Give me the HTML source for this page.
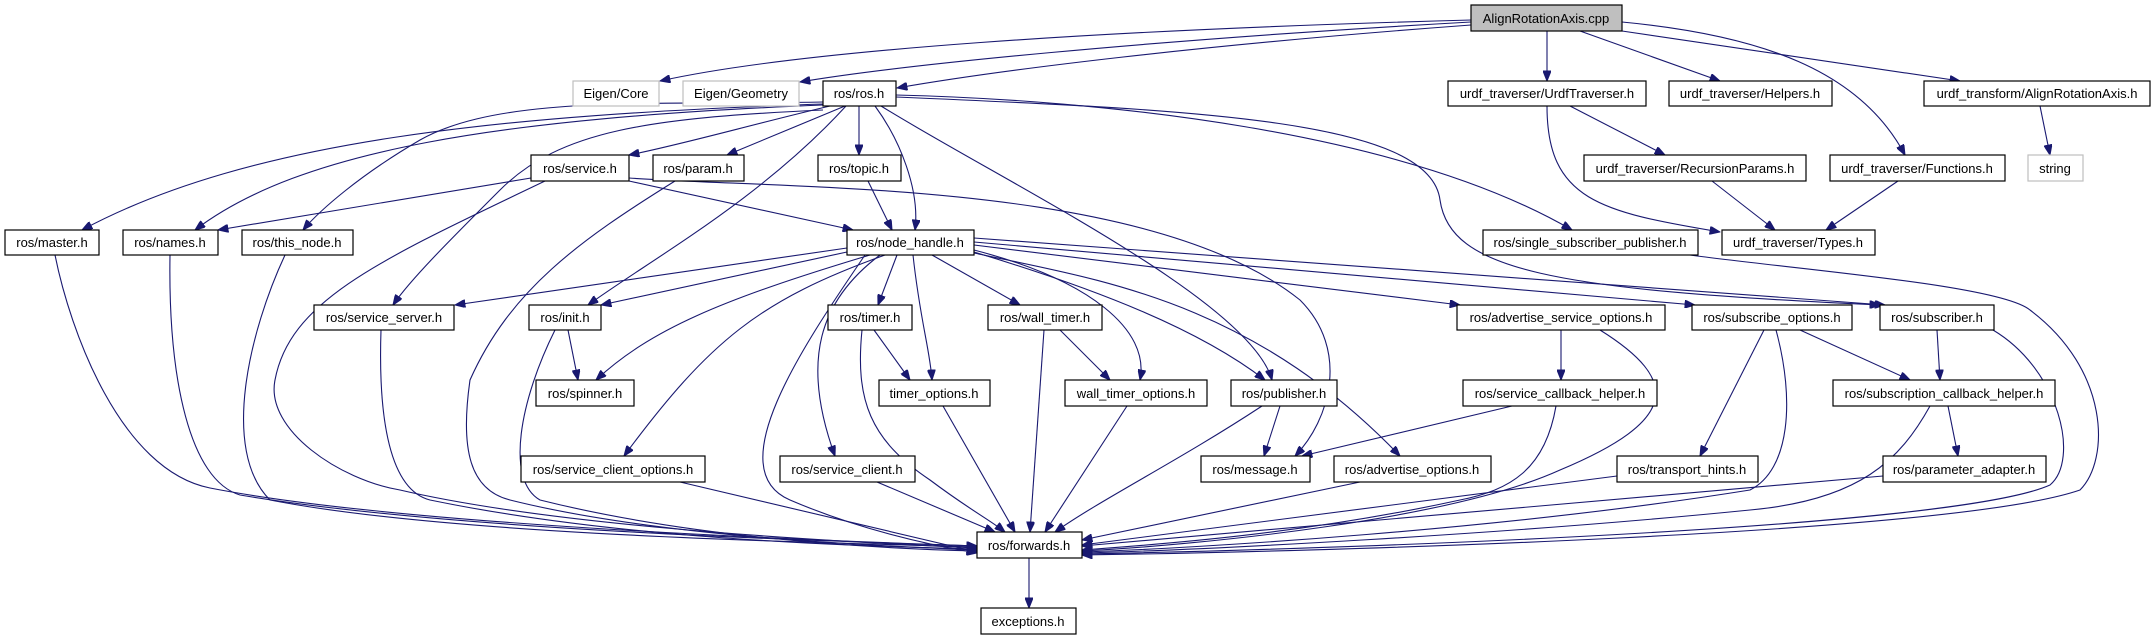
<!DOCTYPE html>
<html><head><meta charset="utf-8"><style>
html,body{margin:0;padding:0;background:#fff;}
svg{display:block}
text{font-family:"Liberation Sans",Arial,sans-serif;font-size:13px;fill:#000;}
.e{fill:none;stroke:#191970;stroke-width:1.1;marker-end:url(#a)}
.n{fill:#fff;stroke:#000;stroke-width:1.2}
.g{fill:#fff;stroke:#bfbfbf;stroke-width:1.2}
</style></head><body>
<svg width="2155" height="635" viewBox="0 0 2155 635" xmlns="http://www.w3.org/2000/svg">
<defs><marker id="a" viewBox="0 0 10 8" refX="10" refY="4" markerWidth="11" markerHeight="8" markerUnits="userSpaceOnUse" orient="auto"><path d="M0,0 L10,4 L0,8 z" fill="#191970" stroke="#191970"/></marker></defs>
<g>
<path class="e" d="M1471,20 C1100,30 800,50 660,81"/>
<path class="e" d="M1471,22 C1150,40 900,65 800,82"/>
<path class="e" d="M1471,25 C1200,45 1000,70 897,88"/>
<path class="e" d="M1547,31 L1547,81"/>
<path class="e" d="M1580,31 L1720,81"/>
<path class="e" d="M1622,31 L1960,81"/>
<path class="e" d="M1622,22 C1760,35 1860,70 1905,155"/>
<path class="e" d="M2040,106 L2050,155"/>
<path class="e" d="M1570,106 L1665,155"/>
<path class="e" d="M1547,106 C1547,200 1600,212 1720,232"/>
<path class="e" d="M1712,181 L1775,230"/>
<path class="e" d="M1898,181 L1826,230"/>
<path class="e" d="M823,104 C500,115 250,140 82,230"/>
<path class="e" d="M823,105 C500,118 300,150 195,230"/>
<path class="e" d="M823,102 C650,105 500,95 420,140 C360,175 320,210 303,230"/>
<path class="e" d="M830,106 C750,125 680,145 629,155"/>
<path class="e" d="M823,110 C650,118 560,130 500,190 C450,240 410,280 393,305"/>
<path class="e" d="M845,106 L727,155"/>
<path class="e" d="M859,106 L859,155"/>
<path class="e" d="M875,106 C900,140 920,190 915,230"/>
<path class="e" d="M846,106 C760,200 650,260 588,305"/>
<path class="e" d="M881,106 C1000,180 1250,300 1272,380"/>
<path class="e" d="M896,95 C1100,100 1400,130 1572,230"/>
<path class="e" d="M896,97 C1200,110 1430,120 1440,200 C1450,270 1550,290 1880,305"/>
<path class="e" d="M531,178 L218,230"/>
<path class="e" d="M629,181 L853,230"/>
<path class="e" d="M629,178 C800,190 1150,180 1300,300 C1350,350 1330,420 1295,456"/>
<path class="e" d="M868,181 L892,230"/>
<path class="e" d="M55,255 C70,330 120,470 210,488 C400,525 800,540 977,546"/>
<path class="e" d="M170,255 C168,380 190,480 240,495 C450,530 800,540 977,546"/>
<path class="e" d="M285,255 C250,330 220,450 270,500 C450,535 800,542 977,547"/>
<path class="e" d="M545,181 C380,260 290,300 275,380 C265,430 340,480 400,490 C550,525 800,540 977,548"/>
<path class="e" d="M381,330 C378,420 390,490 430,500 C600,535 800,545 977,549"/>
<path class="e" d="M675,181 C580,240 510,290 470,380 C460,450 470,490 510,500 C650,535 850,545 977,550"/>
<path class="e" d="M555,330 C520,400 505,480 540,500 C680,535 850,548 977,551"/>
<path class="e" d="M680,482 L977,552"/>
<path class="e" d="M865,255 C800,350 720,470 790,500 C860,530 930,545 977,553"/>
<path class="e" d="M877,482 L995,532"/>
<path class="e" d="M862,330 C855,400 870,440 930,480 C970,510 990,520 1005,532"/>
<path class="e" d="M943,406 L1015,532"/>
<path class="e" d="M1044,330 L1030,532"/>
<path class="e" d="M1127,406 L1045,532"/>
<path class="e" d="M1262,406 C1180,460 1100,500 1055,532"/>
<path class="e" d="M1360,482 L1082,540"/>
<path class="e" d="M1556,406 C1545,470 1510,490 1460,500 C1300,535 1150,545 1082,550"/>
<path class="e" d="M1600,330 C1680,380 1680,420 1560,470 C1450,520 1200,545 1082,551"/>
<path class="e" d="M1617,476 L1082,545"/>
<path class="e" d="M1776,330 C1795,400 1790,470 1750,490 C1500,530 1200,548 1082,552"/>
<path class="e" d="M1883,476 L1082,546"/>
<path class="e" d="M1930,406 C1900,460 1860,500 1750,510 C1500,535 1200,550 1082,553"/>
<path class="e" d="M1993,330 C2060,370 2080,460 2050,485 C1950,530 1300,550 1082,554"/>
<path class="e" d="M1690,255 C1800,270 2000,285 2030,310 C2110,370 2110,460 2080,490 C1950,535 1300,552 1082,555"/>
<path class="e" d="M1029,558 L1029,608"/>
<path class="e" d="M847,248 L455,305"/>
<path class="e" d="M847,252 L601,305"/>
<path class="e" d="M870,255 C720,300 650,330 596,380"/>
<path class="e" d="M885,255 C760,300 710,340 624,456"/>
<path class="e" d="M897,255 L878,305"/>
<path class="e" d="M913,255 C920,320 930,350 932,380"/>
<path class="e" d="M880,255 C820,300 800,360 835,456"/>
<path class="e" d="M932,255 L1020,305"/>
<path class="e" d="M974,250 C1090,280 1150,330 1140,380"/>
<path class="e" d="M974,252 C1100,290 1200,330 1265,380"/>
<path class="e" d="M974,253 C1100,280 1250,300 1400,456"/>
<path class="e" d="M974,245 L1460,305"/>
<path class="e" d="M974,242 L1695,305"/>
<path class="e" d="M974,238 L1885,305"/>
<path class="e" d="M874,330 L910,380"/>
<path class="e" d="M1060,330 L1110,380"/>
<path class="e" d="M568,330 L578,380"/>
<path class="e" d="M1280,406 L1264,456"/>
<path class="e" d="M1512,406 L1302,456"/>
<path class="e" d="M1561,330 L1561,380"/>
<path class="e" d="M1764,330 L1700,456"/>
<path class="e" d="M1800,330 L1910,380"/>
<path class="e" d="M1937,330 L1940,380"/>
<path class="e" d="M1948,406 L1958,456"/>
</g>
<g text-anchor="middle">
<rect x="1471" y="5" width="151" height="26" fill="#bfbfbf" stroke="#000" stroke-width="1.2"/><text x="1546" y="23">AlignRotationAxis.cpp</text>
<rect class="g" x="573" y="81" width="86" height="25"/><text x="616" y="98">Eigen/Core</text>
<rect class="g" x="683" y="81" width="116" height="25"/><text x="741" y="98">Eigen/Geometry</text>
<rect class="n" x="823" y="81" width="73" height="25"/><text x="859" y="98">ros/ros.h</text>
<rect class="n" x="1448" y="81" width="198" height="25"/><text x="1547" y="98">urdf_traverser/UrdfTraverser.h</text>
<rect class="n" x="1669" y="81" width="163" height="25"/><text x="1750" y="98">urdf_traverser/Helpers.h</text>
<rect class="n" x="1924" y="81" width="226" height="25"/><text x="2037" y="98">urdf_transform/AlignRotationAxis.h</text>
<rect class="n" x="531" y="155" width="98" height="26"/><text x="580" y="173">ros/service.h</text>
<rect class="n" x="653" y="155" width="91" height="26"/><text x="698" y="173">ros/param.h</text>
<rect class="n" x="818" y="155" width="83" height="26"/><text x="859" y="173">ros/topic.h</text>
<rect class="n" x="1584" y="155" width="222" height="26"/><text x="1695" y="173">urdf_traverser/RecursionParams.h</text>
<rect class="n" x="1830" y="155" width="175" height="26"/><text x="1917" y="173">urdf_traverser/Functions.h</text>
<rect class="g" x="2028" y="155" width="55" height="26"/><text x="2055" y="173">string</text>
<rect class="n" x="5" y="230" width="94" height="25"/><text x="52" y="247">ros/master.h</text>
<rect class="n" x="123" y="230" width="95" height="25"/><text x="170" y="247">ros/names.h</text>
<rect class="n" x="242" y="230" width="111" height="25"/><text x="297" y="247">ros/this_node.h</text>
<rect class="n" x="847" y="230" width="127" height="25"/><text x="910" y="247">ros/node_handle.h</text>
<rect class="n" x="1483" y="230" width="215" height="25"/><text x="1590" y="247">ros/single_subscriber_publisher.h</text>
<rect class="n" x="1722" y="230" width="153" height="25"/><text x="1798" y="247">urdf_traverser/Types.h</text>
<rect class="n" x="314" y="305" width="140" height="25"/><text x="384" y="322">ros/service_server.h</text>
<rect class="n" x="529" y="305" width="72" height="25"/><text x="565" y="322">ros/init.h</text>
<rect class="n" x="828" y="305" width="84" height="25"/><text x="870" y="322">ros/timer.h</text>
<rect class="n" x="988" y="305" width="114" height="25"/><text x="1045" y="322">ros/wall_timer.h</text>
<rect class="n" x="1457" y="305" width="208" height="25"/><text x="1561" y="322">ros/advertise_service_options.h</text>
<rect class="n" x="1692" y="305" width="160" height="25"/><text x="1772" y="322">ros/subscribe_options.h</text>
<rect class="n" x="1880" y="305" width="114" height="25"/><text x="1937" y="322">ros/subscriber.h</text>
<rect class="n" x="536" y="380" width="98" height="26"/><text x="585" y="398">ros/spinner.h</text>
<rect class="n" x="879" y="380" width="111" height="26"/><text x="934" y="398">timer_options.h</text>
<rect class="n" x="1065" y="380" width="142" height="26"/><text x="1136" y="398">wall_timer_options.h</text>
<rect class="n" x="1231" y="380" width="106" height="26"/><text x="1284" y="398">ros/publisher.h</text>
<rect class="n" x="1463" y="380" width="194" height="26"/><text x="1560" y="398">ros/service_callback_helper.h</text>
<rect class="n" x="1833" y="380" width="222" height="26"/><text x="1944" y="398">ros/subscription_callback_helper.h</text>
<rect class="n" x="521" y="456" width="184" height="26"/><text x="613" y="474">ros/service_client_options.h</text>
<rect class="n" x="780" y="456" width="135" height="26"/><text x="847" y="474">ros/service_client.h</text>
<rect class="n" x="1201" y="456" width="109" height="26"/><text x="1255" y="474">ros/message.h</text>
<rect class="n" x="1334" y="456" width="157" height="26"/><text x="1412" y="474">ros/advertise_options.h</text>
<rect class="n" x="1617" y="456" width="141" height="26"/><text x="1687" y="474">ros/transport_hints.h</text>
<rect class="n" x="1883" y="456" width="163" height="26"/><text x="1964" y="474">ros/parameter_adapter.h</text>
<rect class="n" x="977" y="532" width="105" height="26"/><text x="1029" y="550">ros/forwards.h</text>
<rect class="n" x="981" y="608" width="95" height="26"/><text x="1028" y="626">exceptions.h</text>
</g>
</svg>
</body></html>
